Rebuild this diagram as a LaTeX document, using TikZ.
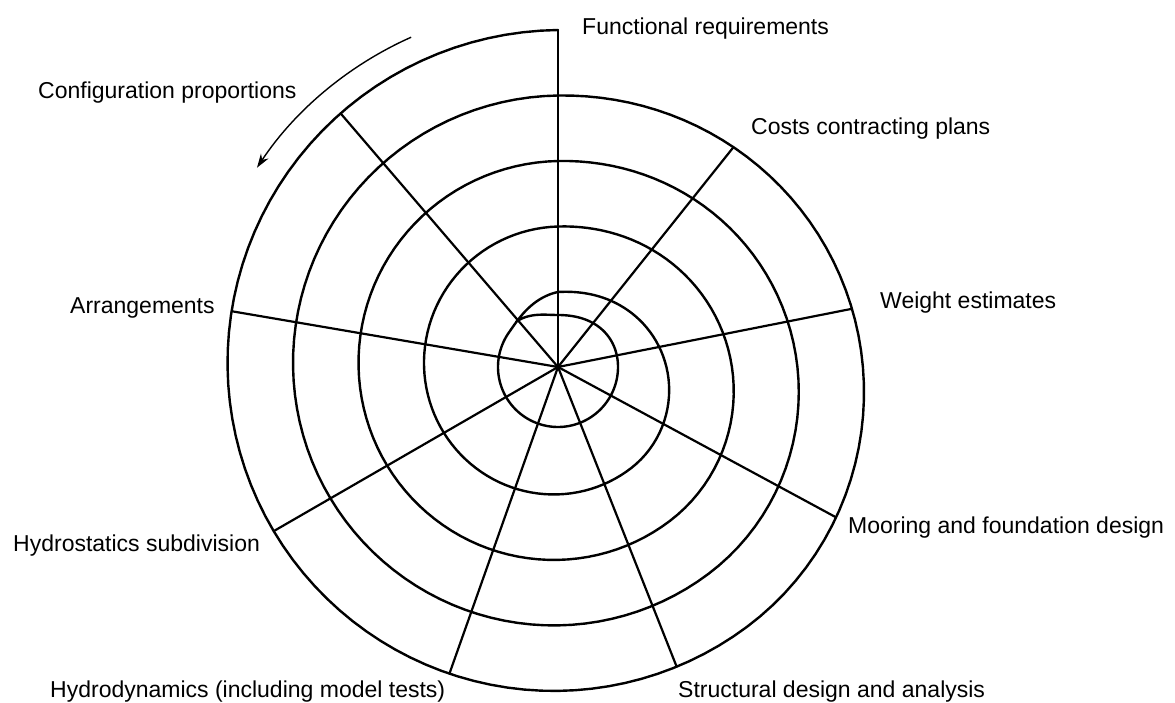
\documentclass[tikz,border=0pt]{standalone}
\usepackage{fontspec}
\setmainfont{Liberation Sans}
\usetikzlibrary{arrows.meta}
\begin{document}
\begin{tikzpicture}[x=1pt,y=1pt,
  declare function={
    % smooth step used for the inward drop of each turn
    sstep(\s)=(\s>0)*(\s<1)*(3*\s*\s-2*\s*\s*\s)+(\s>=1)*1;
    % fraction of a turn
    frc(\t)=mod(\t,360)/360;
    % radius of the design spiral after turning t degrees from the top
    spr(\t)=337-65.5*floor(\t/360)-65.5*(0.4*frc(\t)+0.6*sstep((frc(\t)-0.6)/0.4));
    % innermost loop, u degrees past the last top crossing:
    % fed from the last turn, flattened at the top, closing on itself
    cp(\u)=max(0,cos(\u));
    fall(\u)=(1-min(\u/55,1))*(1-min(\u/55,1))*(1+min(\u/55,1));
    inr(\u)=60+15*fall(\u)-(\u>270)*8*cp(\u)*cp(\u)*cp(\u)+(\u>360)*4.8*sstep((\u-360)/42);
  },
  spiral/.style={line width=2.4pt,line join=round,line cap=round},
  spoke/.style={line width=2.2pt,line cap=round},
  turn/.style={line width=1.4pt,-{Stealth[length=14pt,width=9pt]}},
  lbl/.style={anchor=base west,inner sep=0pt,font=\fontsize{23}{27}\selectfont,text=black}]
\fill[white] (0,0) rectangle (1175,702);
\useasboundingbox (0,0) rectangle (1175,702);

\begin{scope}[shift={(558,335)}]
  \coordinate (c) at (0,0);
  % outer turns of the spiral
  \draw[spiral] plot[domain=0:1440,samples=481,variable=\t] ({90+\t}:{spr(\t)});
  % innermost loop closing on itself
  \draw[spiral] plot[domain=0:403,samples=203,variable=\u] ({90+\u}:{inr(\u)});
  % the nine spokes
  \foreach \i/\a in {0/90,1/130.6,2/170.3,3/210,4/250.5,5/291.6,6/331.6,7/371.2,8/411.4}{
    \pgfmathsetmacro\rr{spr(\a-90)}
    \coordinate (s\i) at (\a:\rr);
    \draw[spoke] (c) -- (s\i);
  }
  \fill (c) circle (3);
  % direction of travel
  \coordinate (a1) at (114:361);
  \draw[turn] (a1) arc[start angle=114,end angle=146.5,radius=361] coordinate (a2);
\end{scope}

\node[lbl] (fr) at (582,667) {Functional requirements};
\node[lbl] (cc) at (751,567) {Costs contracting plans};
\node[lbl] (we) at (880,393) {Weight estimates};
\node[lbl] (mf) at (848,169) {Mooring and foundation design};
\node[lbl] (sd) at (678,5) {Structural design and analysis};
\node[lbl] (hd) at (50,5) {Hydrodynamics (including model tests)};
\node[lbl] (hs) at (13,151) {Hydrostatics subdivision};
\node[lbl] (ar) at (70,388) {Arrangements};
\node[lbl] (cp) at (38,603) {Configuration proportions};
\end{tikzpicture}
\end{document}
